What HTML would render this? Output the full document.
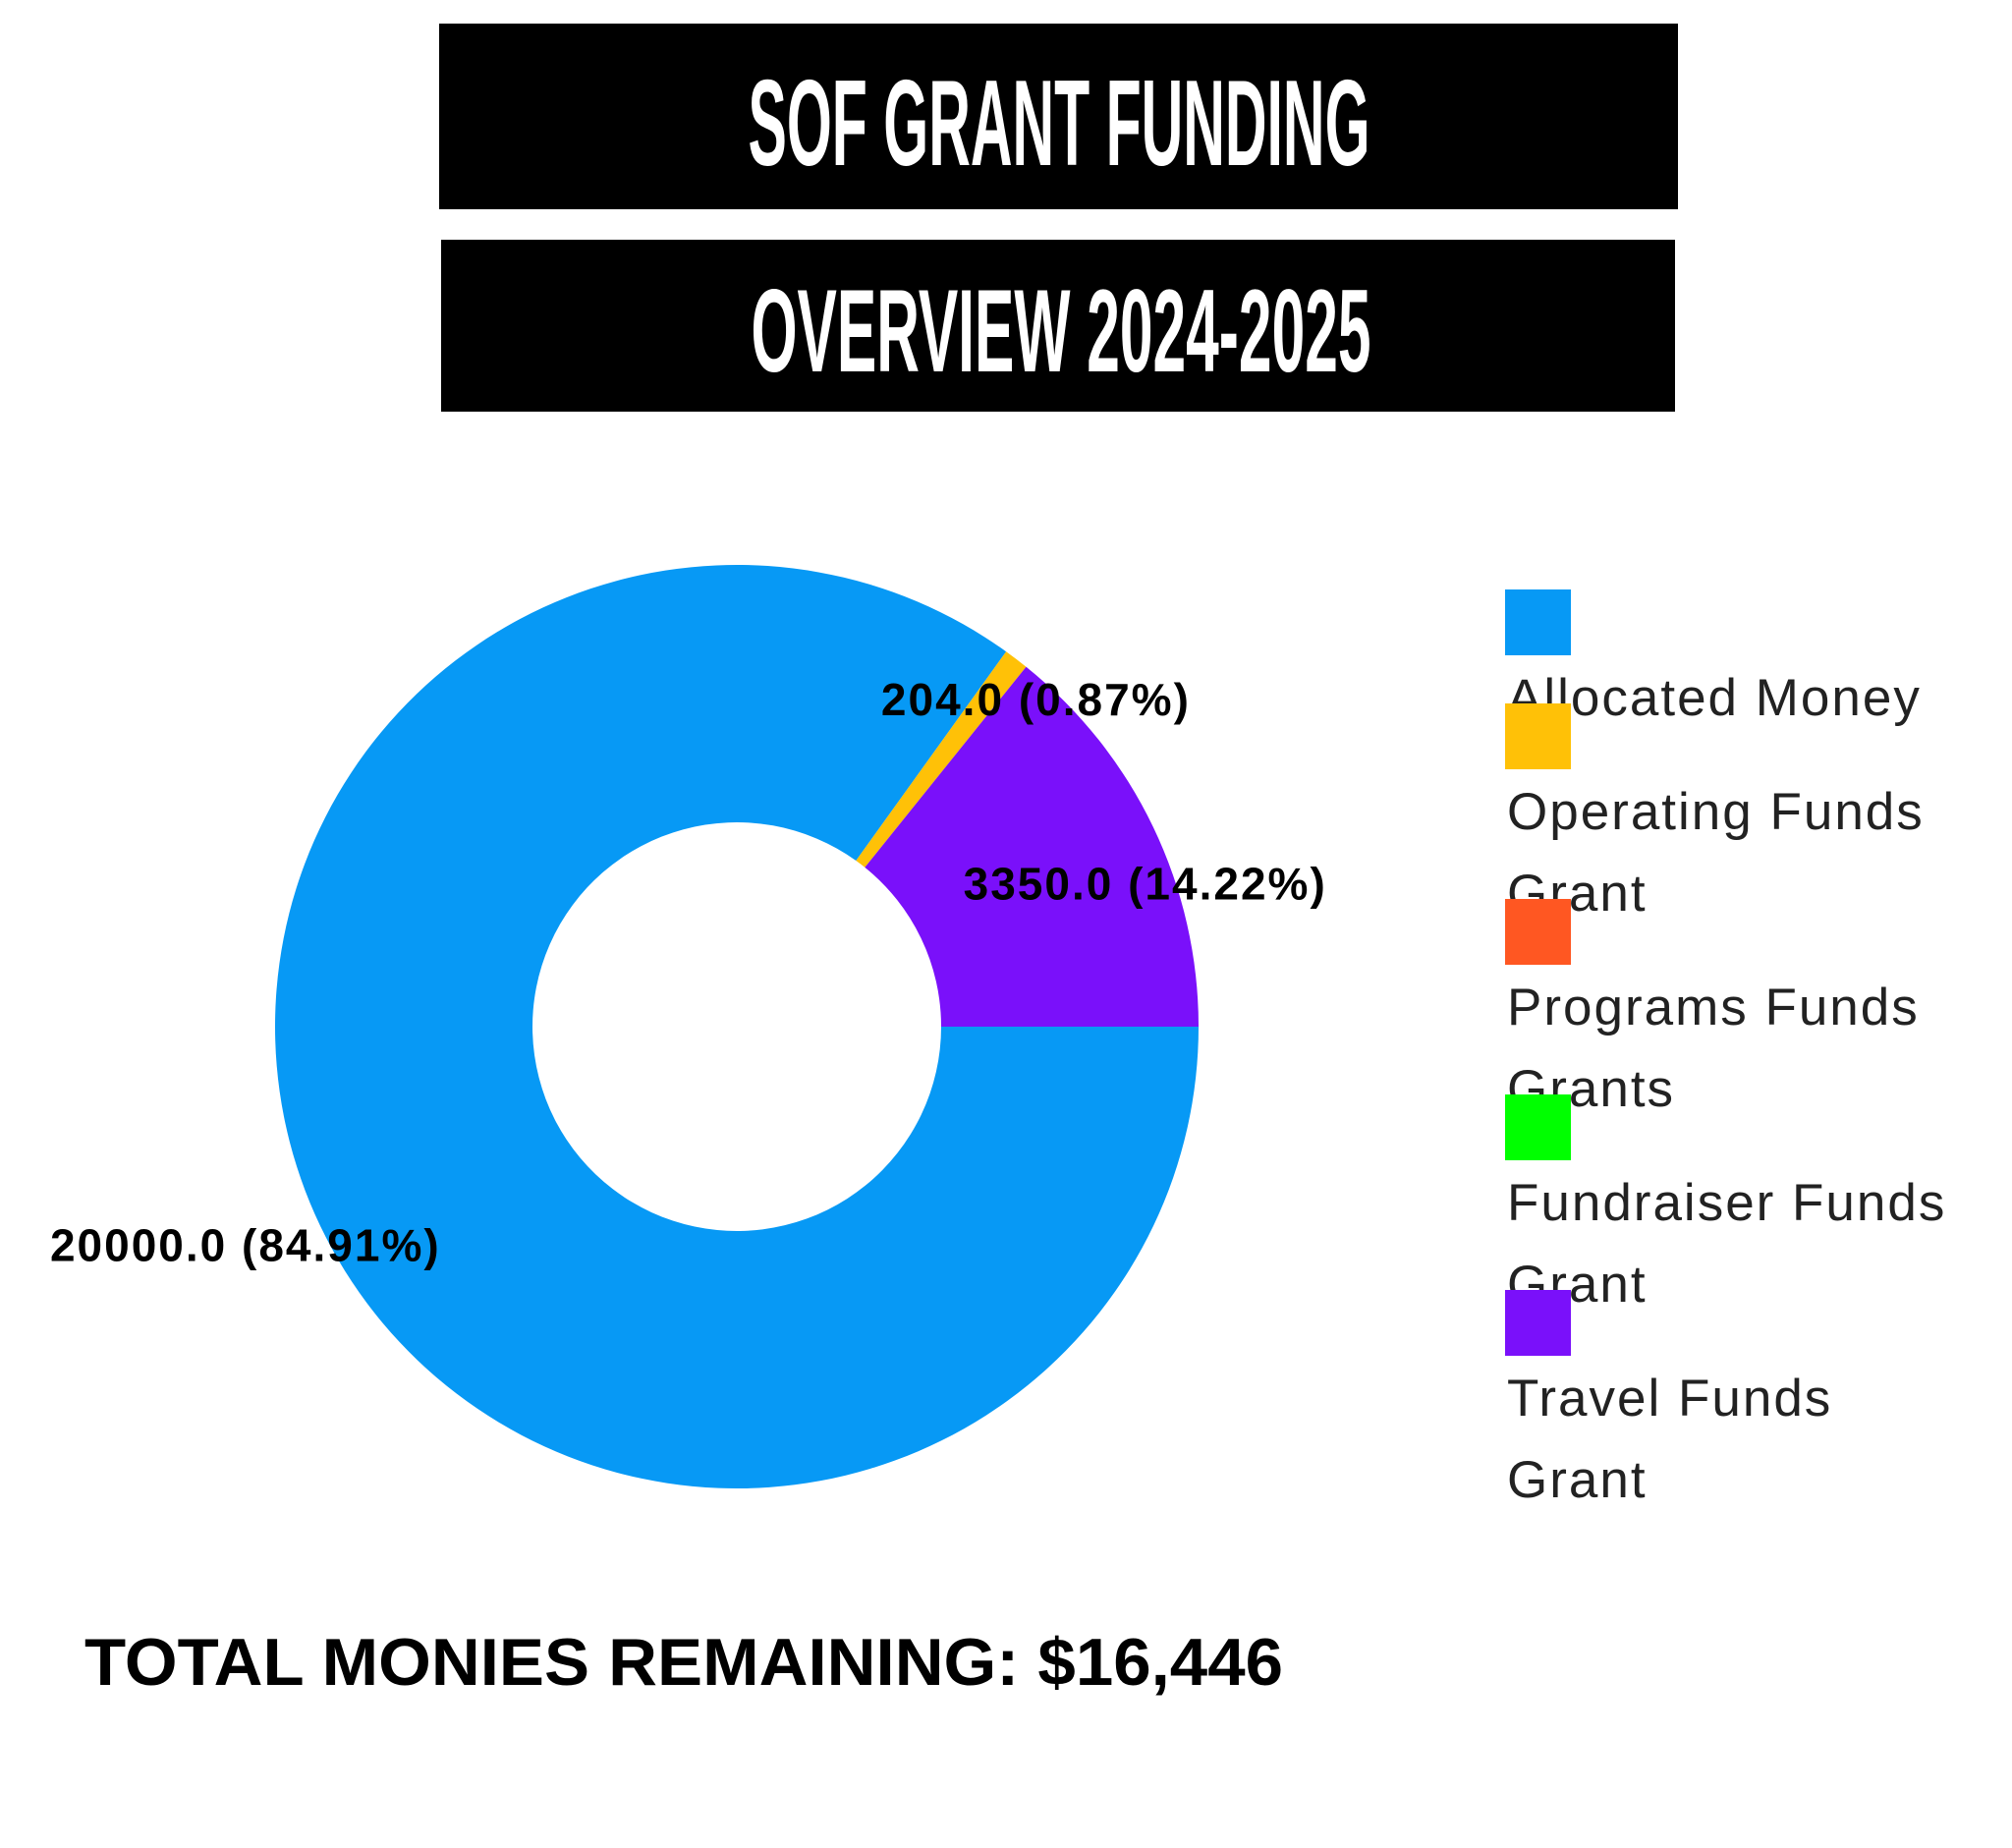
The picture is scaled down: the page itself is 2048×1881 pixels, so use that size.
<!DOCTYPE html>
<html><head><meta charset="utf-8"><style>
html,body{margin:0;padding:0;background:#fff;}
svg{display:block;}
</style></head><body>
<svg id="chart" width="2048" height="1881" viewBox="0 0 2048 1881" xmlns="http://www.w3.org/2000/svg">
<rect x="0" y="0" width="2048" height="1881" fill="#fff"/>
<rect x="447" y="24" width="1261" height="189" fill="#000"/>
<text x="1078" y="168" text-anchor="middle" font-family="Liberation Sans Narrow, Liberation Sans, sans-serif" font-weight="bold" font-size="124" fill="#fff" textLength="633" lengthAdjust="spacingAndGlyphs">SOF GRANT FUNDING</text>
<rect x="449" y="244" width="1256" height="175" fill="#000"/>
<text x="1080" y="378" text-anchor="middle" font-family="Liberation Sans Narrow, Liberation Sans, sans-serif" font-weight="bold" font-size="120" fill="#fff" textLength="631" lengthAdjust="spacingAndGlyphs">OVERVIEW 2024-2025</text>
<g id="slices"></g>
<g id="labels"></g>
<g id="legend"></g>
<text x="86" y="1715" font-family="Liberation Sans, sans-serif" font-weight="bold" font-size="68" fill="#000" textLength="1220" lengthAdjust="spacingAndGlyphs">TOTAL MONIES REMAINING: $16,446</text>
</svg>
<script>
const categories = ["Allocated Money", "Operating Funds Grant", "Programs Funds Grants", "Fundraiser Funds Grant", "Travel Funds Grant"];
const values = [20000.0, 204.0, 0, 0, 3350.0];
const colors = ["#0799F5", "#FFC107", "#FF5722", "#00FF00", "#7A10FA"];
const legendLines = [["Allocated Money"], ["Operating Funds", "Grant"], ["Programs Funds", "Grants"], ["Fundraiser Funds", "Grant"], ["Travel Funds", "Grant"]];

const NS = "http://www.w3.org/2000/svg";
const cx = 750, cy = 1045, R = 470, r = 208;
const total = values.reduce((a, b) => a + b, 0);
function pt(rad, a) { return [cx + rad * Math.cos(a), cy + rad * Math.sin(a)]; }
const gS = document.getElementById('slices');
const gL = document.getElementById('labels');
let start = 0;
values.forEach((v, i) => {
  if (v <= 0) return;
  const sweep = v / total * 2 * Math.PI;
  const end = start + sweep;
  const large = sweep > Math.PI ? 1 : 0;
  const [x1, y1] = pt(R, start), [x2, y2] = pt(R, end), [x3, y3] = pt(r, end), [x4, y4] = pt(r, start);
  const p = document.createElementNS(NS, 'path');
  p.setAttribute('d', `M${x1},${y1} A${R},${R} 0 ${large} 1 ${x2},${y2} L${x3},${y3} A${r},${r} 0 ${large} 0 ${x4},${y4} Z`);
  p.setAttribute('fill', colors[i]);
  
  
  gS.appendChild(p);
  start = end;
});
// labels positioned by slice mid-angle
start = 0;
const labelSpecs = [];
values.forEach((v, i) => {
  if (v <= 0) return;
  const sweep = v / total * 2 * Math.PI;
  const mid = start + sweep / 2;
  labelSpecs.push({i, v, mid});
  start += sweep;
});
labelSpecs.forEach(s => {
  const pct = (s.v / total * 100).toFixed(2);
  let x, y, anchor;
  if (s.i === 0) { const p = pt(R, s.mid); x = p[0] - 82; y = p[1] + 12; anchor = 'middle'; }
  else if (s.i === 1) { const p = pt(R, s.mid); x = p[0] + 20; y = p[1] + 45; anchor = 'middle'; }
  else { const p = pt((R + r) / 2, s.mid); x = p[0] + 110; y = p[1] + 5; anchor = 'middle'; }
  const t = document.createElementNS(NS, 'text');
  t.setAttribute('x', x);
  t.setAttribute('y', y);
  t.setAttribute('text-anchor', anchor);
  t.setAttribute('dominant-baseline', 'middle');
  t.setAttribute('font-family', 'Liberation Sans, sans-serif');
  t.setAttribute('font-weight', 'bold');
  t.setAttribute('font-size', '46');
  t.setAttribute('letter-spacing', '2');
  t.textContent = s.v.toFixed(1) + ' (' + pct + '%)';
  
  
  gL.appendChild(t);
});
// legend
const gLeg = document.getElementById('legend');
let ly = 600;
const lineH = 83;
categories.forEach((c, i) => {
  const sq = document.createElementNS(NS, 'rect');
  sq.setAttribute('x', 1532);
  sq.setAttribute('y', ly);
  sq.setAttribute('width', 67);
  sq.setAttribute('height', 67);
  sq.setAttribute('fill', colors[i]);
  
  
  gLeg.appendChild(sq);
  legendLines[i].forEach((ln, j) => {
    const t = document.createElementNS(NS, 'text');
    t.setAttribute('x', 1534);
    t.setAttribute('y', ly + 111 + j * lineH + 17);
    t.setAttribute('font-family', 'Liberation Sans, sans-serif');
    t.setAttribute('font-size', '53');
    t.setAttribute('letter-spacing', '2');
    t.setAttribute('fill', '#222');
    t.textContent = ln;
    
    
    gLeg.appendChild(t);
  });
  ly += 152 + legendLines[i].length * lineH - 83 + (legendLines[i].length === 1 ? -36 : -36);
});
</script>
</body></html>
